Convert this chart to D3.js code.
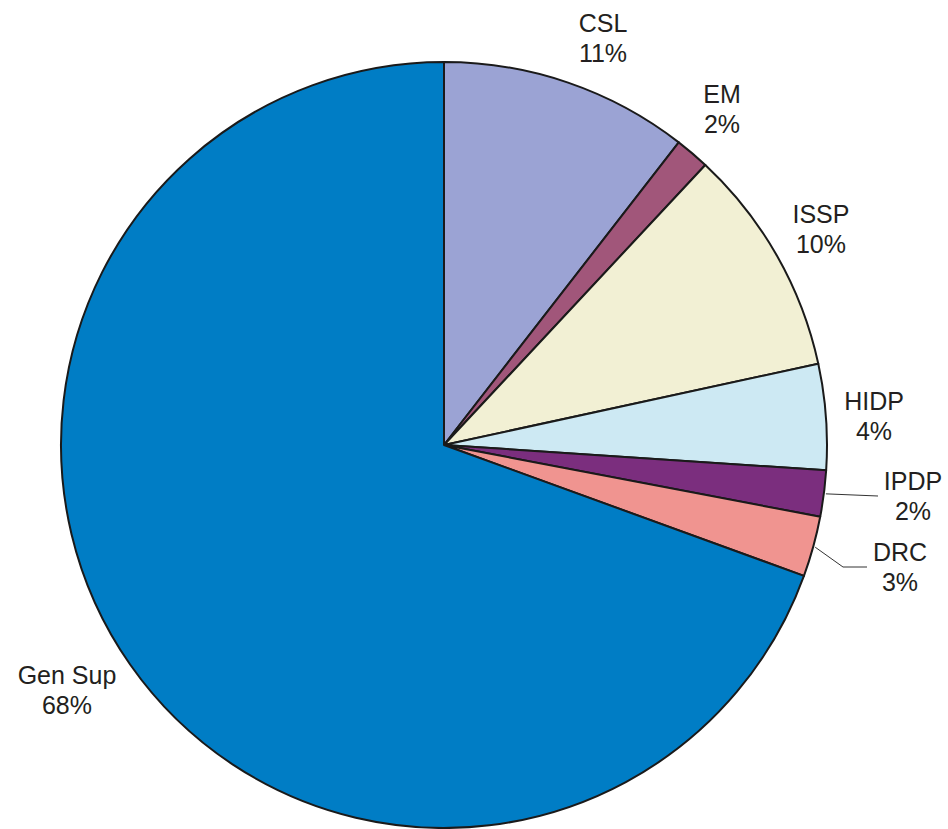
<!DOCTYPE html>
<html><head><meta charset="utf-8">
<script src="https://cdn.jsdelivr.net/npm/d3@7"></script>
<style>body{margin:0;background:#fff}svg{display:block}</style>
</head><body>
<script>
const categories = ["CSL","EM","ISSP","HIDP","IPDP","DRC","Gen Sup"];
const values = [10.5, 1.45, 9.65, 4.45, 1.95, 2.55, 69.45];
const pctLabels = ["11%","2%","10%","4%","2%","3%","68%"];
const colors = ["#9ba3d4","#a1567a","#f2f0d4","#cde9f3","#7b2e7e","#f09490","#007dc5"];

const W = 948, H = 829, cx = 444, cy = 445, R = 383;
const svg = d3.select("body").append("svg").attr("width", W).attr("height", H);
const g = svg.append("g");

const pie = d3.pie().sort(null).value(d => d.v);
const data = pie(categories.map((c,i)=>({c, v: values[i], p: pctLabels[i], col: colors[i]})));
const arc = d3.arc().innerRadius(0).outerRadius(R);

g.append("g").attr("transform", `translate(${cx},${cy})`)
  .selectAll("path.slice").data(data).join("path")
  .attr("class","slice")
  .attr("d", arc)
  .attr("fill", d => d.data.col)
  .attr("stroke", "#1a1a1a")
  .attr("stroke-width", 2)
  .attr("stroke-linejoin","round");

// label layout: text center x and first-line baseline (page coords)
const labelLayout = {
  "CSL": [603, 32], "EM": [722, 103], "ISSP": [821, 223], "HIDP": [874, 410],
  "IPDP": [913, 490], "DRC": [900, 561], "Gen Sup": [67, 684]
};
function pt(angle, r){ return [cx + Math.sin(angle)*r, cy - Math.cos(angle)*r]; }

data.forEach(d => {
  const [lx, ly] = labelLayout[d.data.c];
  const t = g.append("text")
    .attr("text-anchor","middle")
    .attr("font-family","'Liberation Sans', Arial, Helvetica, sans-serif")
    .attr("font-size", 25)
    .attr("fill","#231f20");
  t.append("tspan").attr("x", lx).attr("y", ly).text(d.data.c);
  t.append("tspan").attr("x", lx).attr("y", ly + 30).text(d.data.p);
  const mid = (d.startAngle + d.endAngle)/2;
  if (d.data.c === "IPDP") {
    const [sx, sy] = pt(mid, R + 2);
    g.append("path").attr("d", `M${sx},${sy} L${lx-35},${ly+6}`)
      .attr("fill","none").attr("stroke","#333").attr("stroke-width",1);
  } else if (d.data.c === "DRC") {
    const [sx, sy] = pt(mid, R + 2);
    g.append("path").attr("d", `M${sx},${sy} L${lx-57},${ly+6} L${lx-33},${ly+6}`)
      .attr("fill","none").attr("stroke","#333").attr("stroke-width",1);
  }
});
</script>
</body></html>
